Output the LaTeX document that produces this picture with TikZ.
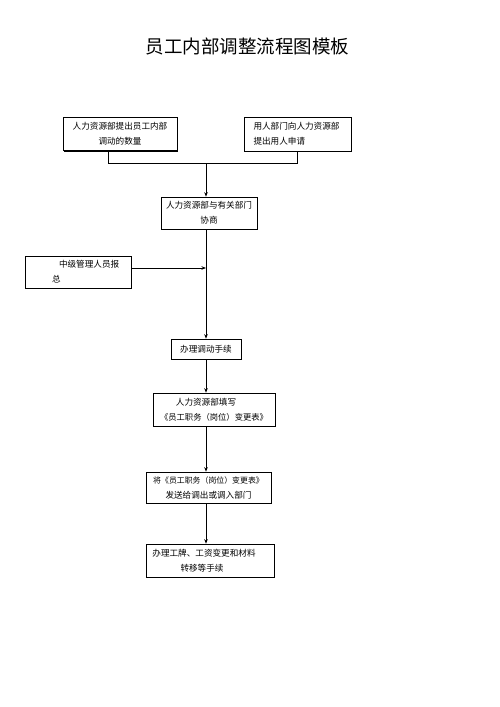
\documentclass[tikz,border=0pt]{standalone}
\usepackage{fontspec}
\setmainfont{Noto Sans CJK SC}
\usetikzlibrary{arrows.meta,shadows,calc}
\tikzset{
  box/.style={draw=black, line width=0.6pt, fill=white, inner sep=0pt,
    general shadow={fill=black, shadow xshift=1.3pt, shadow yshift=-1.3pt},
    font=\fontsize{8.6}{15}\selectfont},
  conn/.style={line width=0.8pt},
  arr/.style={conn, -{Stealth[length=4.5pt,width=3.5pt]}}
}
\begin{document}
\begin{tikzpicture}[x=1pt,y=-1pt]
\useasboundingbox (0,0) rectangle (500,707);
\node (title) at (247.5,46) {\fontsize{18.5}{20}\selectfont 员工内部调整流程图模板};
\node[box, minimum width=114pt, minimum height=33pt, align=center] (b1) at (120,134) {人力资源部提出员工内部\\调动的数量};
\node[box, minimum width=107pt, minimum height=34pt, align=left, text width=88pt] (b2) at (297.5,134) {用人部门向人力资源部\\提出用人申请};
\node[box, minimum width=96pt, minimum height=32pt, align=center] (b3) at (209,213) {人力资源部与有关部门\\协商};
\node[box, minimum width=106pt, minimum height=32pt, align=left, text width=82pt] (b4) at (78,272) {\hspace*{22pt}中级管理人员报\\\hspace*{15pt}总};
\node[box, minimum width=70pt, minimum height=20pt] (b5) at (206,349) {办理调动手续};
\node[box, minimum width=122pt, minimum height=33pt, align=center] (b6) at (214,409.5) {人力资源部填写\hspace*{16pt}\\{\fontsize{8.3}{15}\selectfont《员工职务（岗位）变更表》}};
\node[box, minimum width=125pt, minimum height=31pt, align=center] (b7) at (208.5,487.5) {{\fontsize{7.9}{15}\selectfont 将《员工职务（岗位）变更表》}\\发送给调出或调入部门};
\node[box, minimum width=128pt, minimum height=33pt, align=center] (b8) at (210,560.5) {办理工牌、工资变更和材料\hspace*{12pt}\\转移等手续\hspace*{16pt}};
\coordinate (j) at (206,163);
\coordinate (m) at (206,268);
\draw[conn] ([xshift=-12pt]b1.south) |- (j);
\draw[conn] (b2.south) |- (j);
\draw[arr] (j) -- ([xshift=-3pt]b3.north);
\draw[arr] ([xshift=-3pt]b3.south) -- (b5.north);
\draw[arr] (b4.east |- m) -- (m);
\draw[arr] (b5.south) -- ([xshift=-8pt]b6.north);
\draw[arr] ([xshift=-8pt]b6.south) -- ([xshift=-2.5pt]b7.north);
\draw[arr] ([xshift=-2.5pt]b7.south) -- ([xshift=-4pt]b8.north);
\end{tikzpicture}
\end{document}
